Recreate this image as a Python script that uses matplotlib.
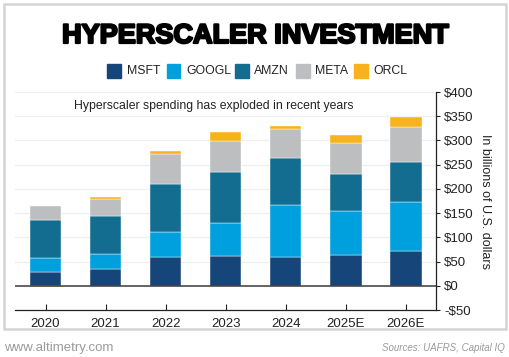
import matplotlib
matplotlib.use("Agg")
import matplotlib.pyplot as plt
import matplotlib.patheffects as pe
from matplotlib.patches import Rectangle
import numpy as np

years = ["2020", "2021", "2022", "2023", "2024", "2025E", "2026E"]
msft = [29, 34, 60, 62, 59, 63, 72]
googl = [28, 32, 52, 68, 107, 92, 100]
amzn = [78, 79, 98, 105, 98, 76, 83]
meta = [30, 35, 61, 63, 60, 64, 72]
orcl = [-2, 4, 8, 19, 6, 16, 21]

series = [("MSFT", msft, "#16457a"), ("GOOGL", googl, "#009fdd"),
          ("AMZN", amzn, "#136d91"), ("META", meta, "#bdbec0"),
          ("ORCL", orcl, "#f8b21b")]

yticks = [-50, 0, 50, 100, 150, 200, 250, 300, 350, 400]
ytick_labels = ["-$50", "$0", "$50", "$100", "$150", "$200", "$250", "$300", "$350", "$400"]

plt.rcParams['font.family'] = ['Liberation Sans', 'DejaVu Sans']

W, H = 510, 357
fig = plt.figure(figsize=(W / 100, H / 100), dpi=100)

def fx(px):
    return px / W

def fy(py):
    return 1 - py / H

# outer frame
fig.patches.append(Rectangle((fx(4), fy(329)), fx(502) , (325) / H, transform=fig.transFigure,
                             fill=False, edgecolor="#d4d4d4", linewidth=1.8))

ax = fig.add_axes([fx(15.5), fy(310), fx(436 - 15.5), (310 - 92) / H])
x = np.arange(len(years))
pos_bottom = np.zeros(len(years))
neg_bottom = np.zeros(len(years))
for name, vals, col in series:
    v = np.array(vals, dtype=float)
    b = np.where(v >= 0, pos_bottom, neg_bottom)
    ax.bar(x, v, 0.52, bottom=b, color=col, edgecolor="white", linewidth=0.3, zorder=3)
    pos_bottom = pos_bottom + np.where(v >= 0, v, 0)
    neg_bottom = neg_bottom + np.where(v < 0, v, 0)

ax.set_xlim(-0.5, 6.5)
ax.set_ylim(-50, 400)
ax.set_yticks(yticks)
ax.set_yticklabels(ytick_labels)
ax.yaxis.tick_right()
ax.yaxis.set_label_position("right")
for gy in yticks[2:]:
    ax.axhline(gy, color="#efefef", linewidth=0.9, zorder=1)
ax.axhline(0, color="#3a3a3a", linewidth=1.1, zorder=4)
ax.set_xticks(x)
ax.set_xticklabels(years)
for s in ["top", "left"]:
    ax.spines[s].set_visible(False)
ax.spines["right"].set_color("#222222")
ax.spines["bottom"].set_color("#222222")
ax.spines["right"].set_linewidth(0.9)
ax.spines["bottom"].set_linewidth(0.9)
ax.tick_params(axis="x", direction="in", length=4, width=0.8, labelsize=9.5, pad=6,
               colors="#222222")
ax.tick_params(axis="y", direction="out", length=3, width=0.8, labelsize=9.5, pad=3,
               colors="#222222")
ax.set_ylabel("In billions of U.S. dollars", rotation=270, labelpad=12, fontsize=9,
              color="#222222")

# title
fig.text(fx(256), fy(36), "HYPERSCALER INVESTMENT", ha="center", va="center",
         fontsize=19.5, fontweight="bold", color="black",
         path_effects=[pe.withStroke(linewidth=1.6, foreground="black")])

# legend
sq_x = [107.3, 166.7, 235, 296, 354]
tx_x = [126.7, 186, 254, 315.3, 373.3]
for (name, vals, col), sx, tx in zip(series, sq_x, tx_x):
    fig.patches.append(Rectangle((fx(sx), fy(78.3)), fx(13.6), 14 / H,
                                 transform=fig.transFigure, color=col))
    fig.text(fx(tx), fy(71.5), name, ha="left", va="center", fontsize=8.8, color="#222222")

# subtitle
fig.text(fx(213.5), fy(106), "Hyperscaler spending has exploded in recent years",
         ha="center", va="center", fontsize=8.8, color="#222222")

# footer
fig.text(fx(4), fy(348), "www.altimetry.com", ha="left", va="center", fontsize=9.5,
         color="#9a9a9a")
fig.text(fx(505), fy(348), "Sources: UAFRS, Capital IQ", ha="right", va="center",
         fontsize=7, style="italic", color="#9a9a9a")

fig.savefig("out.png", dpi=100)
